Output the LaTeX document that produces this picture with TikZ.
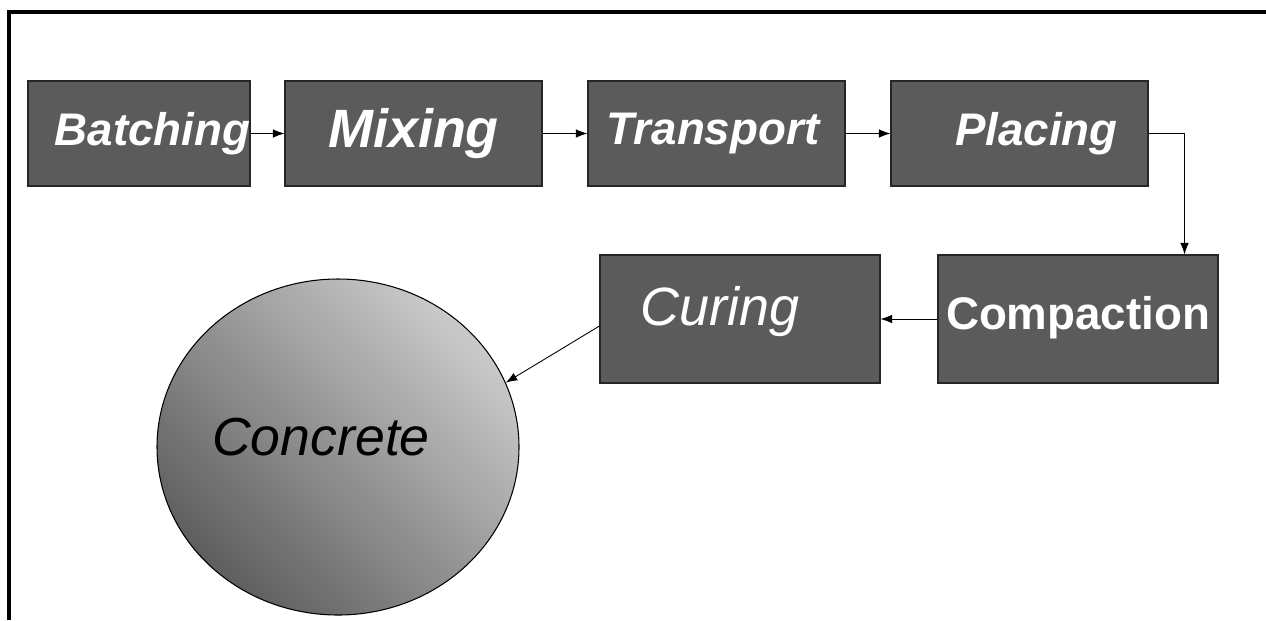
\documentclass[tikz,border=0pt]{standalone}
\usepackage{fontspec}
\setmainfont{Liberation Sans}
\usepackage{tikz}
\usetikzlibrary{shapes.geometric,arrows.meta}

\definecolor{boxgray}{HTML}{5B5B5B}
\definecolor{ballgray}{HTML}{CACACA}
\definecolor{balldark}{HTML}{5E5E5E}

\begin{document}
\begin{tikzpicture}[
  stage/.style={draw=black!85, line width=0.6pt, fill=boxgray, minimum height=2.1cm},
  stagetxt/.style={text=white, inner sep=0pt, font=\fontsize{26}{30}\selectfont\bfseries\itshape},
  arr/.style={-{Latex[length=2.3mm,width=1.7mm]}, line width=0.5pt}
]
\useasboundingbox (0,0) rectangle (25.32,-12.4);
\draw[line width=2pt] (0.18,-12.4) -- (0.18,-0.24) -- (25.32,-0.24); % frame
% top row
\node[stage, minimum width=4.44cm] (batching) at (2.78,-2.67) {};
\node[stage, minimum width=5.14cm] (mixing) at (8.27,-2.67) {};
\node[stage, minimum width=5.14cm] (transport) at (14.33,-2.67) {};
\node[stage, minimum width=5.14cm] (placing) at (20.39,-2.67) {};
\node[stagetxt] (batching-t) at ([xshift=0.27cm]batching.center) {Batching};
\node[stagetxt, font=\fontsize{30.7}{34}\selectfont\bfseries\itshape] (mixing-t) at (mixing.center) {Mixing};
\node[stagetxt] (transport-t) at ([xshift=-0.07cm]transport.center) {Transport};
\node[stagetxt] (placing-t) at ([xshift=0.34cm]placing.center) {Placing};
% second row
\node[stage, minimum width=5.6cm, minimum height=2.56cm] (curing) at (14.8,-6.38) {};
\node[stage, minimum width=5.6cm, minimum height=2.56cm] (compaction) at (21.56,-6.38) {};
\node[stagetxt, font=\fontsize{30.7}{34}\selectfont\itshape] (curing-t) at ([xshift=-0.4cm,yshift=0.14cm]curing.center) {Curing};
\node[stagetxt, font=\fontsize{26}{30}\selectfont\bfseries] (compaction-t) at ([yshift=0.02cm]compaction.center) {Compaction};
% end product
\node[ellipse, draw=black, line width=0.6pt, minimum width=7.24cm, minimum height=6.72cm,
      top color=ballgray, bottom color=balldark, shading angle=-45] (concrete) at (6.76,-8.94) {};
\node[inner sep=0pt, font=\fontsize{30.5}{34}\selectfont\itshape] (concrete-t) at ([xshift=-0.34cm,yshift=0.2cm]concrete.center) {Concrete};
% flow
\foreach \a/\b in {batching/mixing, mixing/transport, transport/placing} % edit here for the top arrows
  \draw[arr] (\a.east) -- (\b.west);
\draw[arr] (placing.east) -| ([xshift=-0.68cm]compaction.north east);
\draw[arr] (compaction.west) -- (curing.east);
\draw[arr] ([yshift=-0.14cm]curing.west) -- (concrete.21);
\end{tikzpicture}
\end{document}
